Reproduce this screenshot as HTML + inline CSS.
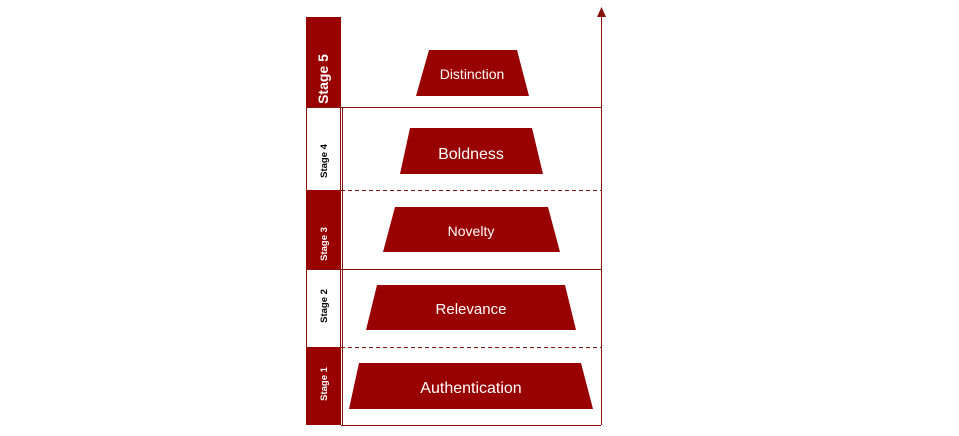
<!DOCTYPE html>
<html><head><style>
body{margin:0;background:#fff;}
</style></head><body>
<svg width="959" height="431" xmlns="http://www.w3.org/2000/svg" font-family="Liberation Sans, sans-serif">
<rect x="0" y="0" width="959" height="431" fill="#fff"/>
<rect x="306" y="17" width="35" height="90" fill="#990000"/>
<rect x="306.5" y="107.5" width="34" height="83" fill="#fff" stroke="#8a1010"/>
<rect x="306" y="190" width="35" height="79" fill="#990000"/>
<rect x="306.5" y="269.5" width="34" height="78" fill="#fff" stroke="#8a1010"/>
<rect x="306" y="347" width="35" height="78" fill="#990000"/>
<line x1="342.5" y1="107" x2="342.5" y2="425" stroke="#8a1010"/>
<line x1="341" y1="107.5" x2="601" y2="107.5" stroke="#8a1010"/>
<line x1="341" y1="269.5" x2="601" y2="269.5" stroke="#8a1010"/>
<line x1="341" y1="425.5" x2="601" y2="425.5" stroke="#8a1010"/>
<line x1="341" y1="190.5" x2="601" y2="190.5" stroke="#8a1010" stroke-dasharray="4,3"/>
<line x1="341" y1="347.5" x2="601" y2="347.5" stroke="#8a1010" stroke-dasharray="4,3"/>
<line x1="601.5" y1="14" x2="601.5" y2="425" stroke="#8a1010"/>
<polygon points="601.5,7 597,17 606,17" fill="#8a1010"/>
<g font-weight="bold" text-anchor="middle">
<text transform="translate(328,79) rotate(-90)" font-size="14" fill="#fff">Stage 5</text>
<text transform="translate(327,161) rotate(-90)" font-size="9.5" fill="#000">Stage 4</text>
<text transform="translate(327,244) rotate(-90)" font-size="9.5" fill="#fff">Stage 3</text>
<text transform="translate(327,306) rotate(-90)" font-size="9.5" fill="#000">Stage 2</text>
<text transform="translate(327,384) rotate(-90)" font-size="9.5" fill="#fff">Stage 1</text>
</g>
<g fill="#990000">
<polygon points="429,50 517,50 529,96 416,96"/>
<polygon points="410,128 532,128 543,174 400,174"/>
<polygon points="395,207 548,207 560,252 383,252"/>
<polygon points="377,285 565,285 576,330 366,330"/>
<polygon points="359,363 581,363 593,409 349,409"/>
</g>
<g fill="#fff" text-anchor="middle">
<text x="472" y="79" font-size="14">Distinction</text>
<text x="471" y="159" font-size="16">Boldness</text>
<text x="471" y="236" font-size="14">Novelty</text>
<text x="471" y="314" font-size="15">Relevance</text>
<text x="471" y="393" font-size="16">Authentication</text>
</g>
</svg>
</body></html>
